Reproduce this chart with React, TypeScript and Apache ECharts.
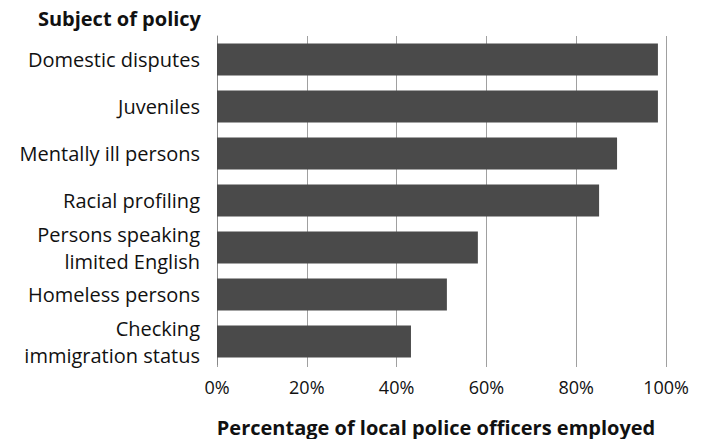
import React, { useEffect, useRef } from "react";
import * as echarts from "echarts";

const categories = [
  "Domestic disputes",
  "Juveniles",
  "Mentally ill persons",
  "Racial profiling",
  "Persons speaking\nlimited English",
  "Homeless persons",
  "Checking\nimmigration status",
];
const values = [98.2, 98.2, 89.1, 85.1, 58.1, 51.2, 43.2];
const xTicks = [0, 20, 40, 60, 80, 100];
const yTitle = "Subject of policy";
const xTitle = "Percentage of local police officers employed";

const FONT = "'Open Sans', 'Noto Sans', sans-serif";

export default function App() {
  const ref = useRef<HTMLDivElement>(null);
  useEffect(() => {
    if (!ref.current) return;
    const chart = echarts.init(ref.current, null, { renderer: "svg" });
    chart.setOption({
      animation: false,
      backgroundColor: "#ffffff",
      grid: { left: 217, right: 44, top: 36, bottom: 74, containLabel: false },
      xAxis: {
        type: "value",
        min: xTicks[0],
        max: xTicks[xTicks.length - 1],
        interval: 20,
        axisLine: { show: false },
        axisTick: { show: true, length: 2, lineStyle: { color: "#a0a0a0" } },
        splitLine: { show: true, lineStyle: { color: "#a0a0a0", width: 1 } },
        axisLabel: {
          formatter: (v: number) => `${v}%`,
          color: "#111",
          fontFamily: FONT,
          fontSize: 18,
          margin: 13,
        },
      },
      yAxis: {
        type: "category",
        data: categories,
        inverse: true,
        axisLine: { show: true, lineStyle: { color: "#888", width: 1 } },
        axisTick: { show: false },
        axisLabel: {
          color: "#111",
          fontFamily: FONT,
          fontSize: 20,
          margin: 17,
          lineHeight: 27,
          align: "right",
        },
      },
      series: [
        {
          type: "bar",
          data: values,
          barWidth: 32,
          itemStyle: { color: "#4a4a4a" },
        },
      ],
      graphic: [
        {
          type: "text",
          x: 201,
          y: 18,
          style: {
            text: yTitle,
            fill: "#111",
            font: `bold 20px ${FONT}`,
            textAlign: "right",
            textVerticalAlign: "middle",
          },
        },
        {
          type: "text",
          x: 436,
          y: 427,
          style: {
            text: xTitle,
            fill: "#111",
            font: `bold 20px ${FONT}`,
            textAlign: "center",
            textVerticalAlign: "middle",
          },
        },
      ],
    });
    return () => chart.dispose();
  }, []);
  return (
    <div
      ref={ref}
      style={{ position: "absolute", left: 0, top: 0, width: 710, height: 439 }}
    />
  );
}
